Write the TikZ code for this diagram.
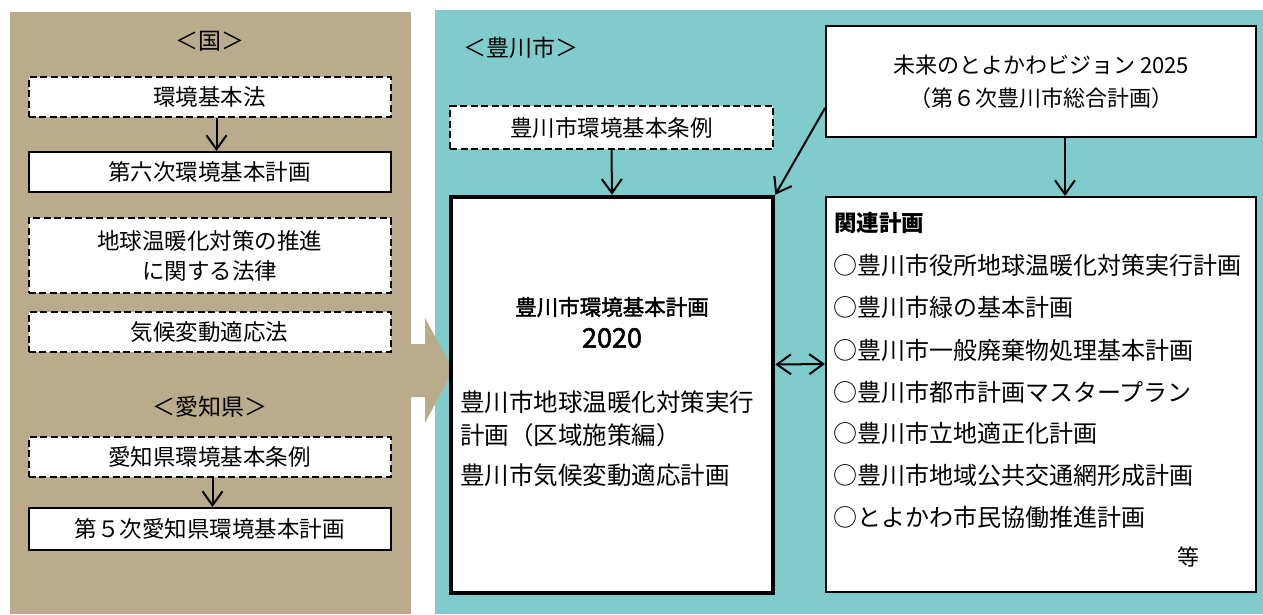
\documentclass[tikz,border=0pt]{standalone}
\usepackage{fontspec}
\usetikzlibrary{arrows.meta,calc}
\newfontfamily\jp{Noto Sans CJK JP}
\newfontfamily\jpmid[FakeBold=1.8]{Noto Sans CJK JP}
\definecolor{tanc}{RGB}{185,171,140}
\definecolor{tealc}{RGB}{128,204,204}
\begin{document}
\begin{tikzpicture}[x=1pt,y=-1pt,
  box/.style={draw, fill=white, line width=2pt, inner sep=0pt, font=\jp\fontsize{22.5}{30}\selectfont, align=center},
  dbox/.style={box, dash pattern=on 7pt off 3.5pt},
  arr/.style={line width=2pt, -{Straight Barb[length=14pt,width=20pt,line width=2pt]}},
  darr/.style={line width=2pt, {Straight Barb[length=14pt,width=20pt,line width=2pt]}-{Straight Barb[length=14pt,width=20pt,line width=2pt]}},
  lbl/.style={inner sep=0pt, font=\jp\fontsize{23}{28}\selectfont},
  item/.style={inner sep=0pt, anchor=west, font=\jp\fontsize{24}{28}\selectfont},
  mitem/.style={inner sep=0pt, anchor=west, font=\jp\fontsize{24.5}{28}\selectfont},
]
\useasboundingbox (0,0) rectangle (1263,614);
% panels
\fill[tanc] (10,12) rectangle (411,614);
\fill[tealc] (435,10) rectangle (1263,614);
% big arrow
\fill[tanc] (410,344) -- (425,344) -- (425,318) -- (453,370) -- (425,423) -- (425,397) -- (410,397) -- cycle;

% left: national
\node[lbl] (kuni) at (210,41) {＜国＞};
\node[dbox, minimum width=362pt, minimum height=40pt] (kihonho) at (209.5,97) {環境基本法};
\node[box, minimum width=362pt, minimum height=40pt] (dai6) at (209.5,172) {第六次環境基本計画};
\node[dbox, minimum width=362pt, minimum height=75pt] (ondanka) at (209.5,255.5) {地球温暖化対策の推進\\に関する法律};
\node[dbox, minimum width=362pt, minimum height=40pt] (tekiou) at (209.5,332) {気候変動適応法};
% left: prefecture
\node[lbl] (aichi) at (210,407) {＜愛知県＞};
\node[dbox, minimum width=362pt, minimum height=40pt] (aichijorei) at (209.5,457) {愛知県環境基本条例};
\node[box, minimum width=362pt, minimum height=42pt] (aichi5) at (209.5,529) {第５次愛知県環境基本計画};
\draw[arr] ($(kihonho.south)+(7,0)$) -- ($(dai6.north)+(7,0)$);
\draw[arr] ($(aichijorei.south)+(3,0)$) -- ($(aichi5.north)+(3,0)$);

% right: city
\node[lbl, anchor=west] (city) at (463,48) {＜豊川市＞};
\node[dbox, minimum width=323pt, minimum height=43pt] (jorei) at (611.5,127.5) {豊川市環境基本条例};
\node[draw, fill=white, line width=4.5pt, minimum width=322pt, minimum height=396pt, inner sep=0pt] (main) at (612,395) {};
\node[box, minimum width=430pt, minimum height=111pt, font=\jp\fontsize{22}{33}\selectfont] (vision) at (1041,81.5) {未来のとよかわビジョン 2025\\（第６次豊川市総合計画）};
\node[box, minimum width=430pt, minimum height=395pt] (related) at (1041,394.5) {};

% main box text
\node[inner sep=0pt, font=\jpmid\fontsize{21.5}{30}\selectfont] (mtitle) at (612,307) {豊川市環境基本計画};
\node[inner sep=0pt, font=\jpmid\fontsize{27}{30}\selectfont] (myear) at (612,338) {2020};
\node[mitem] (m1) at (460,402) {豊川市地球温暖化対策実行};
\node[mitem] (m2) at (460,435) {計画（区域施策編）};
\node[mitem] (m3) at (460,475) {豊川市気候変動適応計画};

% related text
\node[item, font=\jp\bfseries\fontsize{22.5}{28}\selectfont] (rtitle) at (834,223) {関連計画};
\node[item] (r1) at (833,265) {○豊川市役所地球温暖化対策実行計画};
\node[item] (r2) at (833,307) {○豊川市緑の基本計画};
\node[item] (r3) at (833,350) {○豊川市一般廃棄物処理基本計画};
\node[item] (r4) at (833,392) {○豊川市都市計画マスタープラン};
\node[item] (r5) at (833,433) {○豊川市立地適正化計画};
\node[item] (r6) at (833,475) {○豊川市地域公共交通網形成計画};
\node[item] (r7) at (833,517) {○とよかわ市民協働推進計画};
\node[inner sep=0pt, font=\jp\fontsize{22}{28}\selectfont] (etc) at (1188,557) {等};

% connectors
\draw[arr] (jorei.south) -- (main.north);
\draw[arr] ($(vision.west)+(0,26.5)$) -- (main.north east);
\draw[arr] ($(vision.south)+(24,0)$) -- ($(related.north)+(24,0)$);
\draw[darr] ($(main.east)+(0,-30.5)$) -- ($(related.west)+(0,-30.5)$);
\end{tikzpicture}
\end{document}
